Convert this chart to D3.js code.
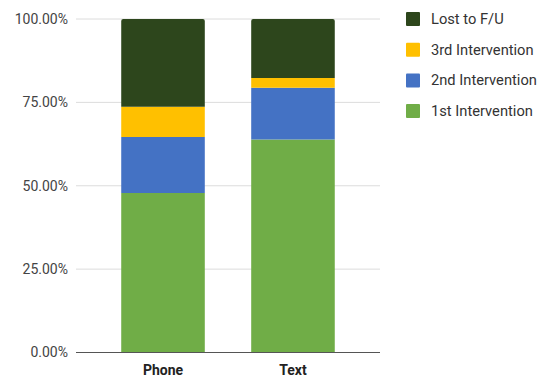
<!DOCTYPE html>
<html>
<head>
<meta charset="utf-8">
<script src="https://cdn.jsdelivr.net/npm/d3@7"></script>
<style>
  body { margin: 0; background: #fff; }
  text { font-family: Roboto, "Noto Sans", sans-serif; }
</style>
</head>
<body>
<div class="chart"></div>
<script>
var categories = ["Phone", "Text"];
var seriesNames = ["1st Intervention", "2nd Intervention", "3rd Intervention", "Lost to F/U"];
var firstIntervention = [47.8, 63.9];
var secondIntervention = [16.8, 15.5];
var thirdIntervention = [9.1, 2.9];
var lostToFU = [26.3, 17.7];
var yTicks = [0, 25, 50, 75, 100];
var colors = ["#70AD47", "#4472C4", "#FFC000", "#2D461C"];

var width = 544, height = 379;
var margin = { left: 76, right: 164, top: 19, bottom: 26.5 };

var svg = d3.select(".chart")
			.append("svg")
			.attr("width", width)
			.attr("height", height);

var rows = categories.map(function(c, i) {
	return {
		cat: c,
		"1st Intervention": firstIntervention[i],
		"2nd Intervention": secondIntervention[i],
		"3rd Intervention": thirdIntervention[i],
		"Lost to F/U": lostToFU[i]
	};
});

var stacked = d3.stack().keys(seriesNames)(rows);

var x = d3.scaleBand()
		  .domain(categories)
		  .range([margin.left, width - margin.right])
		  .paddingInner(0.357)
		  .paddingOuter(0.348);

var y = d3.scaleLinear()
		  .domain([0, 100])
		  .range([height - margin.bottom, margin.top]);

// grid lines
svg.append("g")
   .selectAll("line")
   .data(yTicks.filter(function(d) { return d > 0; }))
   .join("line")
   .attr("x1", margin.left)
   .attr("x2", width - margin.right)
   .attr("y1", function(d) { return y(d); })
   .attr("y2", function(d) { return y(d); })
   .style("stroke", "#dcdcdc")
   .style("stroke-width", 1);

// y axis labels
var yAxis = svg.append("g")
			   .attr("transform", "translate(" + margin.left + ",0)")
			   .call(d3.axisLeft(y).tickValues(yTicks)
					   .tickFormat(function(d) { return d.toFixed(2) + "%"; })
					   .tickSize(0).tickPadding(8));
yAxis.select(".domain").remove();
yAxis.selectAll("text")
	 .style("font-size", "14px")
	 .style("fill", "#444");

// bars
svg.append("g")
   .selectAll("g")
   .data(stacked)
   .join("g")
   .style("fill", function(d, i) { return colors[i]; })
   .selectAll("path")
   .data(function(d) { return d.map(function(v) { v.key = d.key; return v; }); })
   .join("path")
   .attr("d", function(d) {
	   var x0 = x(d.data.cat), w = x.bandwidth();
	   var top = y(d[1]), bot = y(d[0]);
	   if (d.key === "Lost to F/U") {
		   var r = 2;
		   return "M" + x0 + "," + bot + "V" + (top + r) +
				  "Q" + x0 + "," + top + " " + (x0 + r) + "," + top +
				  "H" + (x0 + w - r) +
				  "Q" + (x0 + w) + "," + top + " " + (x0 + w) + "," + (top + r) +
				  "V" + bot + "Z";
	   }
	   return "M" + x0 + "," + bot + "V" + top + "H" + (x0 + w) + "V" + bot + "Z";
   });

// baseline
svg.append("line")
   .attr("x1", margin.left)
   .attr("x2", width - margin.right)
   .attr("y1", y(0))
   .attr("y2", y(0))
   .style("stroke", "#555")
   .style("stroke-width", 1.2);

// x labels
svg.append("g")
   .selectAll("text")
   .data(categories)
   .join("text")
   .attr("x", function(d) { return x(d) + x.bandwidth() / 2; })
   .attr("y", y(0) + 22)
   .attr("text-anchor", "middle")
   .style("font-size", "14px")
   .style("font-weight", "bold")
   .style("fill", "#222")
   .text(function(d) { return d; });

// legend
var legendOrder = seriesNames.slice().reverse();
var legend = svg.append("g")
				.selectAll("g")
				.data(legendOrder)
				.join("g")
				.attr("transform", function(d, i) { return "translate(406," + (19 + i * 30.7) + ")"; });
legend.append("rect")
	  .attr("x", 0)
	  .attr("y", -7)
	  .attr("width", 14)
	  .attr("height", 14)
	  .attr("rx", 1)
	  .style("fill", function(d) { return colors[seriesNames.indexOf(d)]; });
legend.append("text")
	  .attr("x", 25)
	  .attr("y", 5)
	  .style("font-size", "14.7px")
	  .style("fill", "#333")
	  .text(function(d) { return d; });
</script>
</body>
</html>
